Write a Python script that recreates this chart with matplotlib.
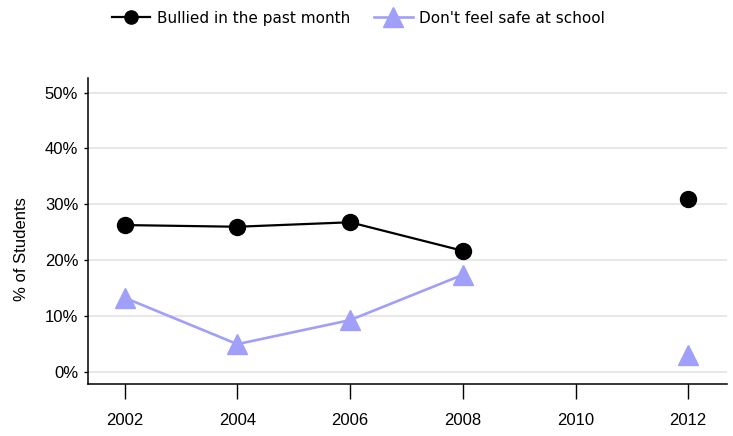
import numpy as np
import matplotlib
matplotlib.use("Agg")
import matplotlib.pyplot as plt
from matplotlib.ticker import FuncFormatter

# data
years = [2002, 2004, 2006, 2008, 2012]
bullied = [26.3, 26.0, 26.8, 21.7, 31.0]
unsafe = [13.3, 5.0, 9.3, 17.4, 3.0]
xticks = [2002, 2004, 2006, 2008, 2010, 2012]
yticks = [0, 10, 20, 30, 40, 50]

purple = '#a0a0fa'

fig = plt.figure(figsize=(7.33, 4.36), dpi=100)
ax = fig.add_axes([0.12, 0.119, 0.872, 0.702])

# 2008 -> 2012 gap: draw connected part and the lone point separately
ax.plot(years[:4], bullied[:4], color='black', lw=1.6, marker='o', ms=11.5,
        label='Bullied in the past month', zorder=3)
ax.plot(years[4:], bullied[4:], color='black', lw=0, marker='o', ms=11.5, zorder=3)
ax.plot(years[:4], unsafe[:4], color=purple, lw=1.9, marker='^', ms=14.5,
        label="Don't feel safe at school", zorder=3)
ax.plot(years[4:], unsafe[4:], color=purple, lw=0, marker='^', ms=14.5, zorder=3)

ax.set_xlim(2001.35, 2012.69)
ax.set_ylim(-2.15, 52.6)
ax.set_xticks(xticks)
ax.set_yticks(yticks)
ax.yaxis.set_major_formatter(FuncFormatter(lambda v, p: '%d%%' % v))
ax.grid(axis='y', color='#e3e3e3', lw=1.2)
ax.set_axisbelow(True)

for s in ['top', 'right']:
    ax.spines[s].set_visible(False)
ax.spines['left'].set_linewidth(1.1)
ax.spines['bottom'].set_linewidth(1.1)

for lab in ax.get_xticklabels() + ax.get_yticklabels():
    lab.set_fontfamily('Liberation Sans')
ax.tick_params(axis='x', length=11, width=1, pad=10, labelsize=12)
ax.tick_params(axis='y', length=3, width=1, pad=4, labelsize=12)

ax.set_ylabel('% of Students', fontsize=12, family='Liberation Sans')
ax.yaxis.set_label_coords(-0.093, 0.44)

leg = fig.legend(loc='center', bbox_to_anchor=(0.489, 0.958), ncol=2, frameon=False,
                 prop={'family': 'DejaVu Sans', 'size': 11}, handlelength=2.5,
                 columnspacing=1.6, handletextpad=0.45)
leg.legend_handles[0].set_markersize(9.5)

fig.savefig('out.png', dpi=100)
